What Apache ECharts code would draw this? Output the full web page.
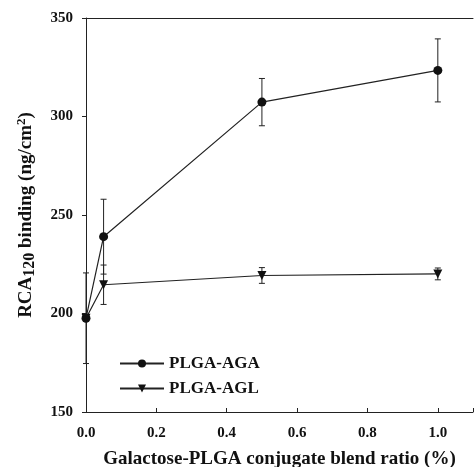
<!DOCTYPE html>
<html><head><meta charset="utf-8">
<script src="https://cdn.jsdelivr.net/npm/echarts@6/dist/echarts.min.js"></script>
<style>html,body{margin:0;padding:0;background:#fff}#c{width:475px;height:467px}</style>
</head><body><div id="c"></div>
<script>
const ratios = [0.0, 0.05, 0.5, 1.0];
const agaValues = [197.6, 239, 307.3, 323.4];
const agaErrors = [23, 19, 12, 16];
const aglValues = [197.6, 214.6, 219.3, 220.1];
const aglErrors = [0, 10, 4, 3];
const xTicks = [0.0, 0.2, 0.4, 0.6, 0.8, 1.0];
const yTicks = [150, 200, 250, 300, 350];

const font = 'Liberation Serif';
const chart = echarts.init(document.getElementById('c'));

function errData(vals, errs) {
  return ratios.map((x, i) => [x, vals[i] - errs[i], vals[i] + errs[i]]).filter((d, i) => errs[i] > 0);
}
function errRender(params, api) {
  const x = api.value(0), lo = api.value(1), hi = api.value(2);
  const p1 = api.coord([x, lo]), p2 = api.coord([x, hi]);
  const w = 3;
  const st = {stroke: '#222', lineWidth: 1};
  return {type: 'group', children: [
    {type: 'line', shape: {x1: p1[0], y1: p1[1], x2: p2[0], y2: p2[1]}, style: st},
    {type: 'line', shape: {x1: p1[0]-w, y1: p1[1], x2: p1[0]+w, y2: p1[1]}, style: st},
    {type: 'line', shape: {x1: p2[0]-w, y1: p2[1], x2: p2[0]+w, y2: p2[1]}, style: st}
  ]};
}

chart.setOption({
  animation: false,
  backgroundColor: '#fff',
  grid: {left: 86, top: 18, width: 387, height: 394, outerBoundsMode: 'none', containLabel: false},
  legend: {
    data: ['PLGA-AGA', 'PLGA-AGL'],
    orient: 'vertical', left: 114, top: 350, itemWidth: 44, itemHeight: 10, itemGap: 8,
    textStyle: {fontFamily: font, fontWeight: 'bold', fontSize: 17, color: '#111'}
  },
  xAxis: [{
    type: 'value', min: 0, max: 1.1, interval: 0.2,
    name: 'Galactose-PLGA conjugate blend ratio (%)', nameLocation: 'middle', nameGap: 38,
    nameTextStyle: {fontFamily: font, fontWeight: 'bold', fontSize: 19, color: '#111'},
    axisLine: {lineStyle: {color: '#222', width: 1}},
    axisTick: {inside: true, length: 4, lineStyle: {color: '#222'}},
    axisLabel: {fontFamily: font, fontWeight: 'bold', fontSize: 15, color: '#111', margin: 14,
      formatter: v => (xTicks.some(t => Math.abs(t - v) < 1e-6) ? v.toFixed(1) : '')},
    splitLine: {show: false}
  }, {
    type: 'value', position: 'top', min: 0, max: 1.1,
    axisLine: {show: true, lineStyle: {color: '#222', width: 1}},
    axisTick: {show: false}, axisLabel: {show: false}, splitLine: {show: false}
  }],
  yAxis: {
    type: 'value', min: 150, max: 350, interval: 50,
    name: '{n|RCA}{s|120}{n| binding (ng/cm}{p|2}{n|)}', nameLocation: 'middle', nameGap: 48,
    nameTextStyle: {rich: {
      n: {fontFamily: font, fontWeight: 'bold', fontSize: 19, color: '#111'},
      s: {fontFamily: font, fontWeight: 'bold', fontSize: 16, color: '#111', verticalAlign: 'bottom', padding: [7, 0, 0, 0]},
      p: {fontFamily: font, fontWeight: 'bold', fontSize: 13, color: '#111', verticalAlign: 'top', padding: [0, 0, 9, 0]}
    }},
    axisLine: {show: true, lineStyle: {color: '#222', width: 1}},
    axisTick: {show: true, length: 4, lineStyle: {color: '#222'}},
    axisLabel: {fontFamily: font, fontWeight: 'bold', fontSize: 15, color: '#111', margin: 13,
      formatter: v => (yTicks.includes(v) ? String(v) : '')},
    splitLine: {show: false}
  },
  series: [
    {name: 'AGA err', type: 'custom', renderItem: errRender, data: errData(agaValues, agaErrors), z: 1, silent: true},
    {name: 'AGL err', type: 'custom', renderItem: errRender, data: errData(aglValues, aglErrors), z: 1, silent: true},
    {name: 'PLGA-AGA', type: 'line', data: ratios.map((x, i) => [x, agaValues[i]]),
      symbol: 'circle', symbolSize: 9, lineStyle: {color: '#222', width: 1.2},
      itemStyle: {color: '#111'}, z: 3},
    {name: 'PLGA-AGL', type: 'line', data: ratios.map((x, i) => [x, aglValues[i]]),
      symbol: 'triangle', symbolRotate: 180, symbolSize: 9, lineStyle: {color: '#222', width: 1.2},
      itemStyle: {color: '#111'}, z: 3}
  ]
});
</script></body></html>
